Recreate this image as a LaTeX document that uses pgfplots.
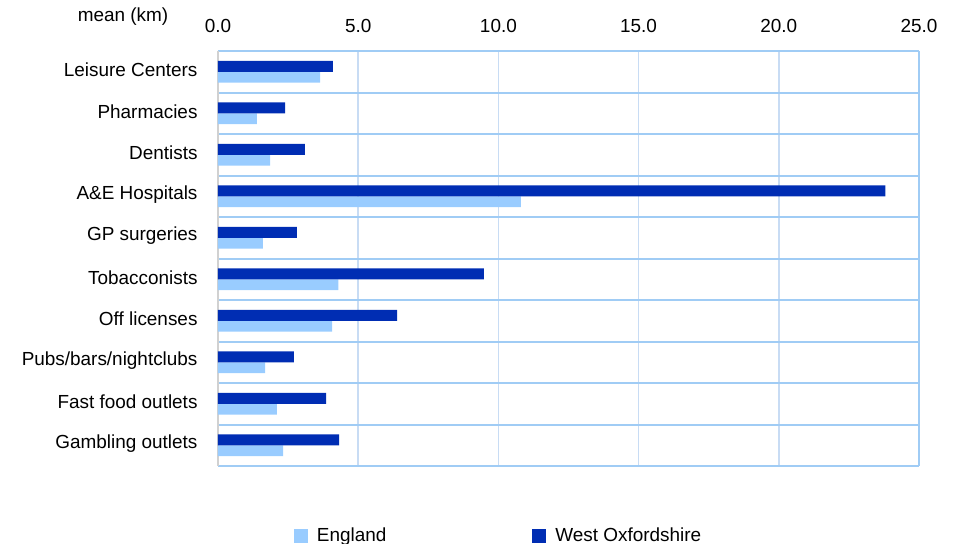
\documentclass[border=0pt]{standalone}
\usepackage{pgfplots}
\pgfplotsset{compat=1.18}
\usepackage{fontspec}
\setmainfont{Liberation Sans}
\definecolor{darkb}{HTML}{002DB3}
\definecolor{lightb}{HTML}{99CCFF}
\definecolor{gridv}{HTML}{C8DCF4}
\definecolor{gridh}{HTML}{A0CCF5}
\newcommand{\lf}{\fontsize{19}{22}\selectfont}
\begin{document}
\lf
\begin{tikzpicture}
\useasboundingbox (-218bp,-78bp) rectangle (746bp,466bp);
\begin{axis}[
  at={(0,0)}, anchor=south west,
  scale only axis, width=701bp, height=415bp,
  clip=false,
  xbar, bar width=0.26,
  xmin=0, xmax=25, ymin=-0.5, ymax=9.5, y dir=reverse,
  xtick={0,5,...,25}, xticklabel pos=upper,
  /pgf/number format/.cd, fixed, fixed zerofill, precision=1, assume math mode=true,
  /pgfplots/.cd,
  ytick={0,...,9},
  yticklabels={Leisure Centers,Pharmacies,Dentists,A\&E Hospitals,GP surgeries,Tobacconists,Off licenses,Pubs/bars/nightclubs,Fast food outlets,Gambling outlets},
  minor ytick={0.5,1.5,...,8.5},
  major tick length=0, minor tick length=0,
  tick style={draw=none},
  xmajorgrids, yminorgrids,
  major grid style={gridv, line width=1.5bp},
  minor grid style={gridh, line width=2bp},
  separate axis lines,
  x axis line style={gridh, line width=2bp},
  y axis line style={black!18, line width=2bp},
  xticklabel style={font=\lf, yshift=12bp},
  yticklabel style={font=\lf, xshift=-14bp, yshift=2bp},
  legend style={at={(0.108,-0.169)}, anchor=west, draw=none, inner sep=0pt, font=\lf, legend columns=2,
    /tikz/every even column/.append style={column sep=144bp}},
  legend image code/.code={\fill[#1] (0bp,-7bp) rectangle (14bp,7bp); \path (21bp,0bp);},
]
\addplot[fill=lightb, draw=none, bar shift=0.13] coordinates {
(3.64,0) (1.39,1) (1.86,2) (10.8,3) (1.6,4) (4.29,5) (4.07,6) (1.68,7) (2.1,8) (2.32,9)};
\addlegendentry{England}
\addplot[fill=darkb, draw=none, bar shift=-0.13] coordinates {
(4.1,0) (2.39,1) (3.1,2) (23.8,3) (2.81,4) (9.48,5) (6.39,6) (2.71,7) (3.86,8) (4.32,9)};
\addlegendentry{West Oxfordshire}
\draw[gridh, line width=2bp] (rel axis cs:1,0) -- (rel axis cs:1,1);
\node[anchor=base, font=\lf] at (rel axis cs:-0.1355,1.07) {mean (km)};
\end{axis}
\end{tikzpicture}
\end{document}
